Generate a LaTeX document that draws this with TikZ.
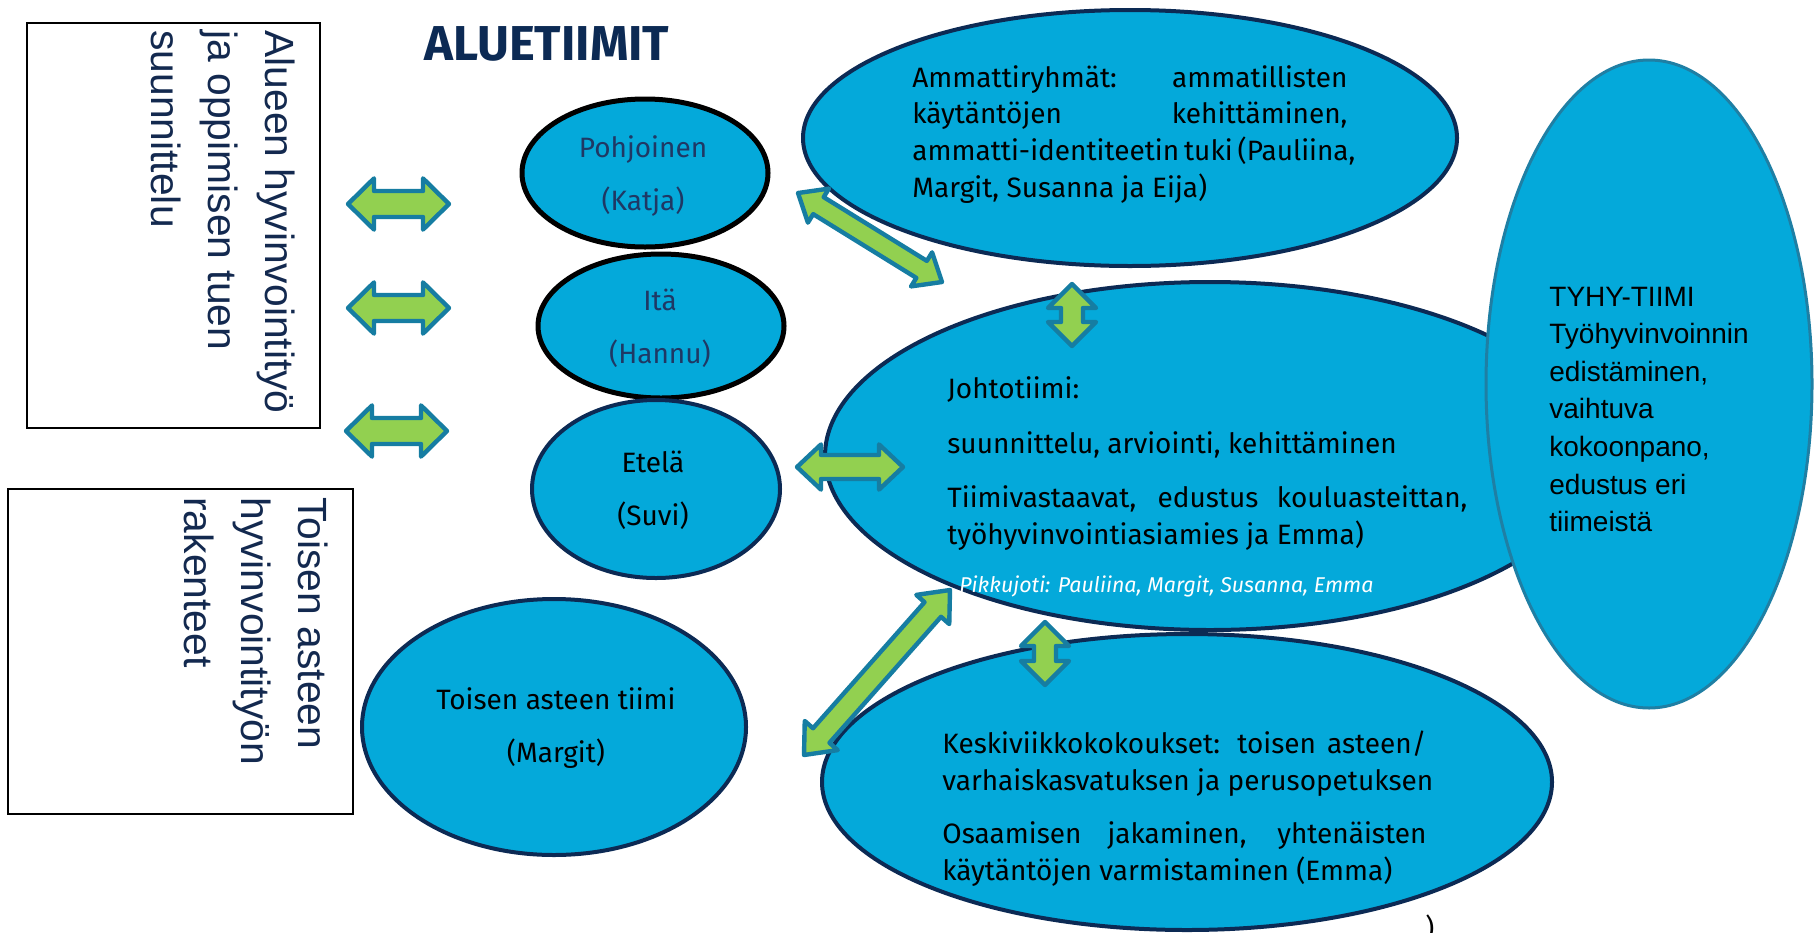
\documentclass[tikz,border=0pt]{standalone}
\usepackage{fontspec}
\setmainfont{Fira Sans}
\newfontfamily\arialf{Liberation Sans}
\usetikzlibrary{shapes.geometric,calc}
\definecolor{ellfill}{HTML}{04A9DA}
\definecolor{navy}{HTML}{0C2A54}
\definecolor{agreen}{HTML}{92D050}
\definecolor{aedge}{HTML}{167DA2}
\definecolor{tyhyedge}{HTML}{1F7FA4}
\definecolor{boxtext}{HTML}{13294F}
\definecolor{regtext}{HTML}{1F3864}
\newcommand{\ctwo}[2]{\vtop{\baselineskip=26.5pt\hbox to 0pt{\hss#1\hss}\hbox to 0pt{\hss#2\hss}}}
\newcommand{\blockarrow}[5]{%
  \draw[blockarr] let \p1=(#1), \p2=(#2), \p3=($(\p1)!#5!(\p2)$), \p4=($(\p2)!#5!(\p1)$) in
    (\p1) -- ($(\p3)!#4!90:(\p2)$) -- ($(\p3)!#3!90:(\p2)$) -- ($(\p4)!#3!-90:(\p1)$)
    -- ($(\p4)!#4!-90:(\p1)$) -- (\p2) -- ($(\p4)!#4!90:(\p1)$) -- ($(\p4)!#3!90:(\p1)$)
    -- ($(\p3)!#3!-90:(\p2)$) -- ($(\p3)!#4!-90:(\p2)$) -- cycle;}
\begin{document}
\begin{tikzpicture}[x=0.5pt,y=-0.5pt,
  ell/.style={ellipse, fill=ellfill, draw=navy, line width=2pt, inner sep=0pt},
  leftbox/.style={draw=black, line width=0.8pt, rectangle, inner sep=0pt},
  boxtxt/.style={font=\arialf\fontsize{20.4pt}{28.5pt}\selectfont, text=boxtext, inner sep=0pt},
  lbl/.style={font=\fontsize{14pt}{18.5pt}\selectfont, text=black, inner sep=0pt},
  tyhytxt/.style={font=\arialf\fontsize{14pt}{18.8pt}\selectfont, text=black, inner sep=0pt},
  blockarr/.style={draw=aedge, fill=agreen, line width=2.2pt, line join=round}]
\useasboundingbox (0,0) rectangle (1814,932);
% left boxes
\node[leftbox, minimum width=146.5pt, minimum height=202.5pt] (box1) at (173.5,225.5) {};
\node[leftbox, minimum width=172.5pt, minimum height=162.5pt] (box2) at (180.5,651.5) {};
\node[boxtxt, rotate=-90, anchor=base west] (box1t) at (265,30)
  {\vtop{\baselineskip=28.5pt\hbox{Alueen hyvinvointityö}\hbox{ja oppimisen tuen}\hbox{suunnittelu}}};
\node[boxtxt, rotate=-90, anchor=base west] (box2t) at (298,497)
  {\vtop{\baselineskip=28.5pt\hbox{Toisen asteen}\hbox{hyvinvointityön}\hbox{rakenteet}}};
% title
\node[font=\bfseries\fontsize{24.5pt}{28pt}\selectfont, text=navy, anchor=base west, inner sep=0pt] (title) at (424,60) {ALUETIIMIT};
% region ellipses
\node[ell, draw=black, line width=2.5pt, minimum width=123pt, minimum height=74pt] (pohj) at (645,173) {};
\node[ell, draw=black, line width=2.5pt, minimum width=123pt, minimum height=72pt] (ita) at (661,326) {};
\node[ell, minimum width=124pt, minimum height=89pt] (etela) at (656,489) {};
\node[ell, minimum width=192pt, minimum height=128pt] (toisen) at (554,727) {};
% big ellipses
\node[ell, minimum width=327pt, minimum height=128pt] (amm) at (1130,138) {};
\node[ell, minimum width=385pt, minimum height=174pt] (johto) at (1210,456) {};
\node[ell, minimum width=365pt, minimum height=148pt] (keski) at (1187,782) {};
\node[ell, draw=tyhyedge, line width=1.5pt, minimum width=163pt, minimum height=324pt] (tyhy) at (1649,384) {};
% texts
\node[lbl, text=regtext, anchor=base] (pohjt) at (643,157) {\ctwo{Pohjoinen}{(Katja)}};
\node[lbl, text=regtext, anchor=base] (itat) at (660,310) {\ctwo{Itä}{(Hannu)}};
\node[lbl, anchor=base] (etelat) at (653,472) {\ctwo{Etelä}{(Suvi)}};
\node[lbl, anchor=base] (toisent) at (556,709) {\ctwo{Toisen asteen tiimi}{(Margit)}};
\node[lbl, anchor=base west] (ammt) at (912,87) {\vtop{\baselineskip=18.4pt
  \hbox{\makebox[217.5pt][s]{Ammattiryhmät: ammatillisten}}
  \hbox{\makebox[217.5pt][s]{käytäntöjen kehittäminen,}}
  \hbox{\makebox[217.5pt][s]{ammatti-identiteetin tuki (Pauliina,}}
  \hbox{Margit, Susanna ja Eija)}}};
\node[lbl, anchor=base west] (johtot) at (947,398) {\vtop{\baselineskip=18.5pt
  \hbox{Johtotiimi:}\vskip 9pt
  \hbox{suunnittelu, arviointi, kehittäminen}\vskip 8.5pt
  \hbox{\makebox[260pt][s]{Tiimivastaavat, edustus kouluasteittan,}}
  \hbox{työhyvinvointiasiamies ja Emma)}}};
\node[font=\fontsize{10.7pt}{12pt}\selectfont\itshape, text=white, anchor=base west, inner sep=0pt] (pikku) at (959,592) {Pikkujoti: Pauliina, Margit, Susanna, Emma};
\node[lbl, anchor=base west] (keskit) at (942,753) {\vtop{\baselineskip=18.5pt
  \hbox{\makebox[242pt][s]{Keskiviikkokokoukset: toisen asteen/}}
  \hbox{varhaiskasvatuksen ja perusopetuksen}\vskip 8pt
  \hbox{\makebox[242pt][s]{Osaamisen jakaminen, yhtenäisten}}
  \hbox{käytäntöjen varmistaminen (Emma)}}};
\node[tyhytxt, anchor=base west] (tyhyt) at (1549,306) {\vtop{\baselineskip=18.8pt
  \hbox{TYHY-TIIMI}\hbox{Työhyvinvoinnin}\hbox{edistäminen,}\hbox{vaihtuva}
  \hbox{kokoonpano,}\hbox{edustus eri}\hbox{tiimeistä}}};
\node[lbl, anchor=base] (paren) at (1430,938) {)};
% arrow end points
\coordinate (l1a) at (348,204); \coordinate (l1b) at (449,204);
\coordinate (l2a) at (348,308); \coordinate (l2b) at (449,308);
\coordinate (l3a) at (346,431); \coordinate (l3b) at (447,431);
\coordinate (d1a) at (798,193); \coordinate (d1b) at (942,282);
\coordinate (v1a) at (1072,284); \coordinate (v1b) at (1072,346);
\coordinate (ha) at (797,467); \coordinate (hb) at (903,467);
\coordinate (d2a) at (804,755); \coordinate (d2b) at (950,590);
\coordinate (v2a) at (1045,622); \coordinate (v2b) at (1045,685);
% arrows
\blockarrow{l1a}{l1b}{6.5pt}{12.8pt}{13pt}
\blockarrow{l2a}{l2b}{6.5pt}{12.8pt}{13pt}
\blockarrow{l3a}{l3b}{6.5pt}{12.8pt}{13pt}
\blockarrow{d1a}{d1b}{5pt}{10pt}{12pt}
\blockarrow{v1a}{v1b}{5.5pt}{12pt}{12pt}
\blockarrow{ha}{hb}{6pt}{11.3pt}{12pt}
\blockarrow{d2a}{d2b}{5.5pt}{11pt}{13pt}
\blockarrow{v2a}{v2b}{5.5pt}{12pt}{12pt}
\end{tikzpicture}
\end{document}
